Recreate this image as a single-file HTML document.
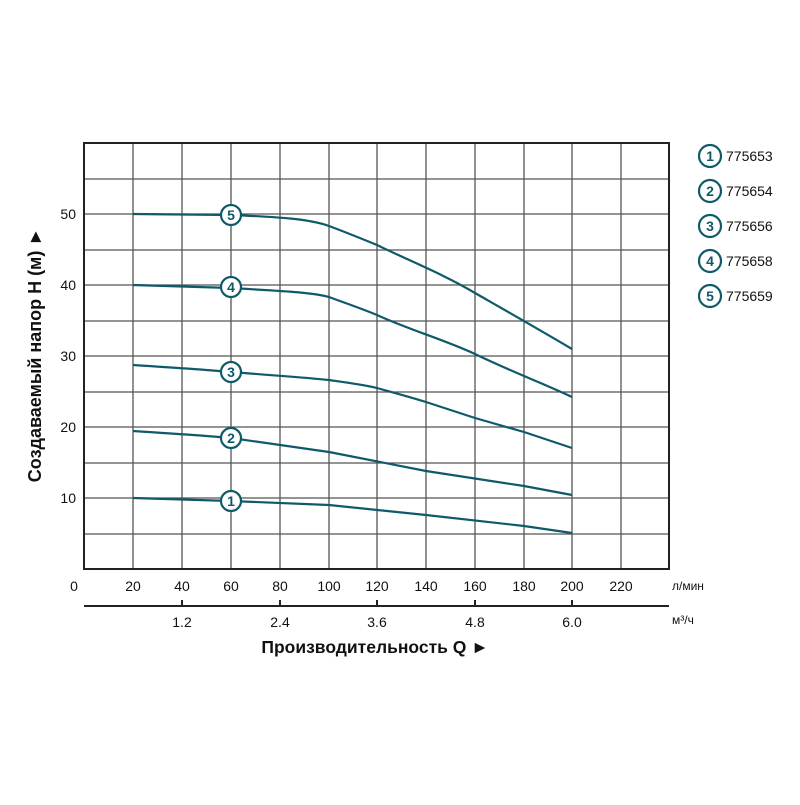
<!DOCTYPE html>
<html><head><meta charset="utf-8"><style>body{margin:0;background:#fff}</style></head><body>
<svg width="800" height="800" xmlns="http://www.w3.org/2000/svg" font-family="Liberation Sans, sans-serif">
<rect width="800" height="800" fill="#fff"/>
<g stroke="#555" stroke-width="1.3" fill="none">
<path d="M133 143V569M182 143V569M231 143V569M280 143V569M329 143V569M377 143V569M426 143V569M475 143V569M524 143V569M572 143V569M621 143V569"/>
<path d="M84 179H669M84 214H669M84 250H669M84 285H669M84 321H669M84 356H669M84 392H669M84 427H669M84 463H669M84 498H669M84 534H669"/>
</g>
<rect x="84" y="143" width="585" height="426" fill="none" stroke="#222" stroke-width="2"/>
<g stroke="#0f5a6a" stroke-width="2.2" fill="none">
<path d="M133 214 L231 215 C280 217 310 219 329 226 C345 232 360 238 377 245 C410 261 445 275 475 293 C510 313 540 330 572 349"/>
<path d="M133 285 L231 288 C280 291 310 292 329 297 C345 303 360 308 377 315 C410 330 445 340 475 354 C510 371 540 382 572 397"/>
<path d="M133 365 C180 368 210 370 231 372 C280 376 300 377 329 380 C350 383 365 385 377 388 C395 393 410 397 426 402 L475 418 L524 432 L572 448"/>
<path d="M133 431 C180 434 210 436 231 438 L329 452 L426 471 L524 486 L572 495"/>
<path d="M133 498 L231 501 L329 505 L426 515 L524 526 L572 533"/>
</g>
<g stroke="#0f5a6a" stroke-width="2.2" fill="#fff">
<circle cx="231" cy="215" r="10"/><circle cx="231" cy="287" r="10"/><circle cx="231" cy="372" r="10"/><circle cx="231" cy="438" r="10"/><circle cx="231" cy="501" r="10"/>
<circle cx="710" cy="156" r="11"/><circle cx="710" cy="191" r="11"/><circle cx="710" cy="226" r="11"/><circle cx="710" cy="261" r="11"/><circle cx="710" cy="296" r="11"/>
</g>
<g fill="#0f5a6a" font-size="14" font-weight="bold" text-anchor="middle">
<text x="231" y="220">5</text><text x="231" y="292">4</text><text x="231" y="377">3</text><text x="231" y="443">2</text><text x="231" y="506">1</text>
<text x="710" y="161">1</text><text x="710" y="196">2</text><text x="710" y="231">3</text><text x="710" y="266">4</text><text x="710" y="301">5</text>
</g>
<g font-size="14" fill="#111">
<text x="726" y="161">775653</text><text x="726" y="196">775654</text><text x="726" y="231">775656</text><text x="726" y="266">775658</text><text x="726" y="301">775659</text>
</g>
<g font-size="14" fill="#111" text-anchor="end">
<text x="76" y="219">50</text><text x="76" y="290">40</text><text x="76" y="361">30</text><text x="76" y="432">20</text><text x="76" y="503">10</text>
</g>
<g font-size="14" fill="#111" text-anchor="middle">
<text x="74" y="591">0</text><text x="133" y="591">20</text><text x="182" y="591">40</text><text x="231" y="591">60</text><text x="280" y="591">80</text><text x="329" y="591">100</text><text x="377" y="591">120</text><text x="426" y="591">140</text><text x="475" y="591">160</text><text x="524" y="591">180</text><text x="572" y="591">200</text><text x="621" y="591">220</text>
<text x="182" y="627">1.2</text><text x="280" y="627">2.4</text><text x="377" y="627">3.6</text><text x="475" y="627">4.8</text><text x="572" y="627">6.0</text>
</g>
<text x="672" y="590" font-size="12" fill="#111">л/мин</text>
<text x="672" y="624" font-size="12" fill="#111">м³/ч</text>
<path d="M84 606H669M182 606v-6M280 606v-6M377 606v-6M475 606v-6M572 606v-6" stroke="#222" stroke-width="2" fill="none"/>
<text x="375" y="653" font-size="17.5" font-weight="bold" text-anchor="middle" fill="#111">Производительность Q ►</text>
<text transform="translate(41 355) rotate(-90)" font-size="18" font-weight="bold" text-anchor="middle" fill="#111">Создаваемый напор H (м) ►</text>
</svg>
</body></html>
